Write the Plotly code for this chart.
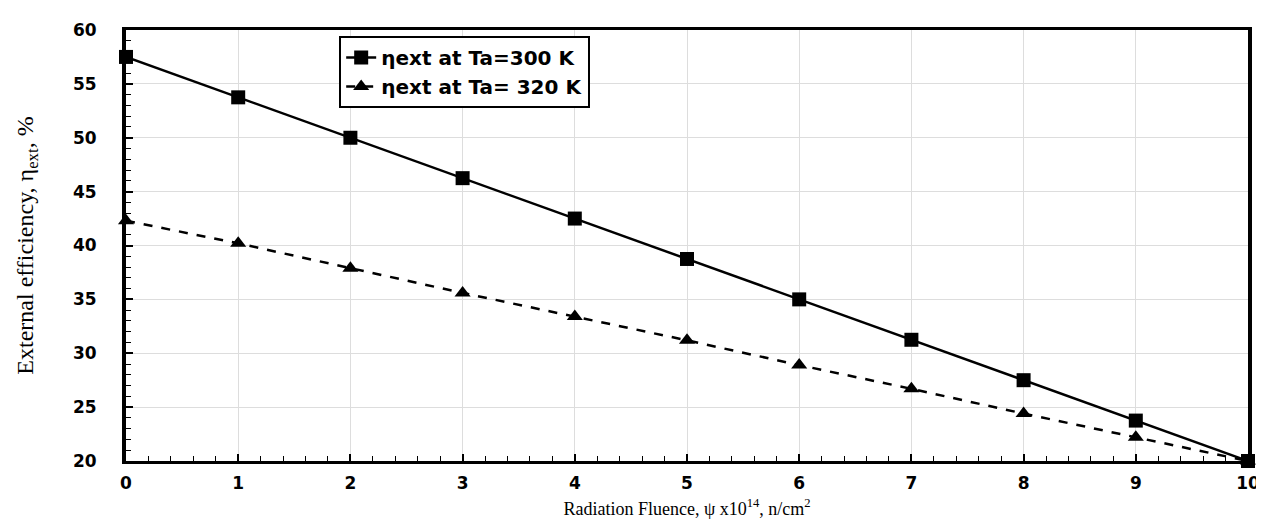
import plotly.graph_objects as go

fluence = [0, 1, 2, 3, 4, 5, 6, 7, 8, 9, 10]
eff_300 = [57.5, 53.75, 50.0, 46.25, 42.5, 38.75, 35.0, 31.25, 27.5, 23.75, 20.0]
eff_320 = [42.3, 40.2, 37.9, 35.6, 33.4, 31.2, 28.9, 26.7, 24.4, 22.2, 20.0]
x_ticks = list(range(0, 11))
y_ticks = [20, 25, 30, 35, 40, 45, 50, 55, 60]

bold_font = "DejaVu Sans, Liberation Sans, Arial"
serif_font = "Liberation Serif, Times New Roman"

fig = go.Figure()
fig.add_trace(go.Scatter(
    x=fluence, y=eff_300, mode="lines+markers",
    name="<b>ηext at Ta=300 K</b>",
    line=dict(color="black", width=2.5),
    marker=dict(symbol="square", size=14, color="black"),
    cliponaxis=False,
))
fig.add_trace(go.Scatter(
    x=fluence, y=eff_320, mode="lines+markers",
    name="<b>ηext at Ta= 320 K</b>",
    line=dict(color="black", width=2.5, dash="dash"),
    marker=dict(symbol="triangle-up", size=14, color="black"),
    cliponaxis=False,
))

fig.update_layout(
    width=1264, height=528,
    margin=dict(l=118, r=19, t=17, b=75),
    plot_bgcolor="white", paper_bgcolor="white",
    font=dict(family=bold_font, color="black"),
    legend=dict(
        x=0.19, y=0.986, xanchor="left", yanchor="top",
        bordercolor="black", borderwidth=2, bgcolor="white",
        font=dict(family=bold_font, size=20, color="black"),
        tracegroupgap=0,
    ),
    showlegend=True,
)

fig.update_xaxes(
    range=[0, 10], tickvals=x_ticks, ticktext=[f"<b>{v}</b>" for v in x_ticks],
    showline=True, linecolor="black", linewidth=3, mirror=True,
    showgrid=True, gridcolor="#dddddd", gridwidth=1,
    ticks="inside", ticklen=7, tickwidth=1.5, tickcolor="black",
    minor=dict(dtick=0.2, ticks="inside", ticklen=5, tickwidth=1, tickcolor="black", showgrid=False),
    tickfont=dict(family=bold_font, size=17, color="black"),
    ticklabelstandoff=5,
    zeroline=False,
    title=dict(text="Radiation Fluence, ψ x10<sup>14</sup>, n/cm<sup>2</sup>",
               font=dict(family=serif_font, size=18, color="black"),
               standoff=10),
)
fig.update_yaxes(
    range=[20, 60], tickvals=y_ticks, ticktext=[f"<b>{v}</b>" for v in y_ticks],
    showline=True, linecolor="black", linewidth=4, mirror=True,
    showgrid=True, gridcolor="#dddddd", gridwidth=1,
    ticks="inside", ticklen=7, tickwidth=1.5, tickcolor="black",
    minor=dict(dtick=1, ticks="inside", ticklen=5, tickwidth=1, tickcolor="black", showgrid=False),
    tickfont=dict(family=bold_font, size=17, color="black"),
    ticklabelstandoff=22,
    zeroline=False,
    title=dict(text="External efficiency, η<sub>ext</sub>, %",
               font=dict(family=serif_font, size=24, color="black"),
               standoff=34),
)

fig.write_html("out.html")
